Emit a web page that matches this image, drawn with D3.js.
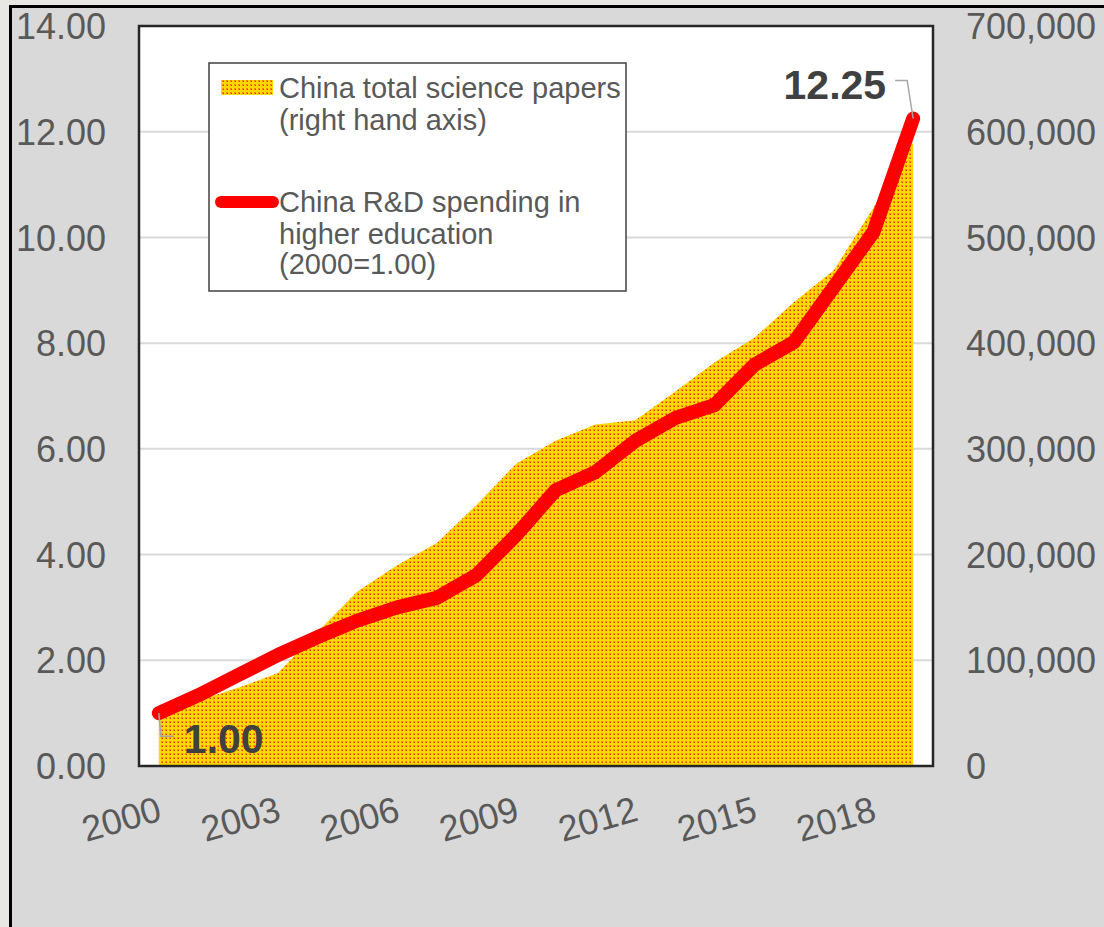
<!DOCTYPE html>
<html>
<head>
<meta charset="utf-8">
<script src="https://cdn.jsdelivr.net/npm/d3@7"></script>
<style>
  html, body { margin: 0; padding: 0; background: #e9e7e3; }
  svg { display: block; }
  text { font-family: "Liberation Sans", Arial, sans-serif; }
</style>
</head>
<body>
<div id="chart"></div>
<script>
// years on the category axis
var years = d3.range(2000, 2020);
// China R&D spending in higher education, index 2000 = 1.00 (left axis)
var rdIndex = [1.00, 1.34, 1.72, 2.10, 2.44, 2.75, 3.00, 3.18, 3.61, 4.37,
               5.22, 5.56, 6.15, 6.58, 6.83, 7.59, 8.02, 9.06, 10.10, 12.25];
// China total science papers (right axis)
var papers = [50000, 62000, 74000, 88000, 127000, 165000, 190000, 211000, 247000, 286000,
              308000, 323000, 327000, 354000, 382000, 405000, 439000, 469000, 528000, 590000];
var leftTicks = [0, 2, 4, 6, 8, 10, 12, 14];
var rightTicks = [0, 100000, 200000, 300000, 400000, 500000, 600000, 700000];
var xLabels = [2000, 2003, 2006, 2009, 2012, 2015, 2018];

var width = 1104, height = 927;
var plot = { left: 139, top: 26, right: 933, bottom: 766 };
var textGrey = '#595959';

var svg = d3.select('#chart').append('svg')
  .attr('width', width)
  .attr('height', height);

// pattern fill for the area (yellow with orange/red dots)
var defs = svg.append('defs');
var pat = defs.append('pattern')
  .attr('id', 'dots')
  .attr('patternUnits', 'userSpaceOnUse')
  .attr('width', 4).attr('height', 4);
pat.append('rect').attr('width', 4).attr('height', 4).attr('fill', '#ffd800');
pat.append('rect').attr('x', 1).attr('y', 1).attr('width', 2).attr('height', 2).attr('fill', '#ff8c00');
pat.append('rect').attr('x', 2).attr('y', 2).attr('width', 1).attr('height', 1).attr('fill', '#ff2a00');

// chart area background + frame
svg.append('rect')
  .attr('x', 10.5).attr('y', 6.5)
  .attr('width', width + 10).attr('height', height + 10)
  .attr('fill', '#d9d9d9')
  .attr('stroke', '#000').attr('stroke-width', 3);

// plot area
svg.append('rect')
  .attr('x', plot.left).attr('y', plot.top)
  .attr('width', plot.right - plot.left).attr('height', plot.bottom - plot.top)
  .attr('fill', '#fff');

/* Scales */
var x = d3.scalePoint()
  .domain(years)
  .range([plot.left, plot.right])
  .padding(0.5);

var yLeft = d3.scaleLinear()
  .domain([0, 14])
  .range([plot.bottom, plot.top]);

var yRight = d3.scaleLinear()
  .domain([0, 700000])
  .range([plot.bottom, plot.top]);

/* Gridlines */
svg.append('g')
  .selectAll('line')
  .data(leftTicks.slice(1, -1))
  .enter().append('line')
  .attr('x1', plot.left).attr('x2', plot.right)
  .attr('y1', d => yLeft(d)).attr('y2', d => yLeft(d))
  .attr('stroke', '#d9d9d9')
  .attr('stroke-width', 2);

/* Area */
var area = d3.area()
  .x((d, i) => x(years[i]))
  .y0(plot.bottom)
  .y1(d => yRight(d));

svg.append('path')
  .datum(papers)
  .attr('d', area)
  .attr('fill', 'url(#dots)');

/* Line */
var line = d3.line()
  .x((d, i) => x(years[i]))
  .y(d => yLeft(d));

svg.append('path')
  .datum(rdIndex)
  .attr('d', line)
  .attr('fill', 'none')
  .attr('stroke', '#ff0000')
  .attr('stroke-width', 14)
  .attr('stroke-linecap', 'round')
  .attr('stroke-linejoin', 'round');

// plot frame on top
svg.append('rect')
  .attr('x', plot.left).attr('y', plot.top)
  .attr('width', plot.right - plot.left).attr('height', plot.bottom - plot.top)
  .attr('fill', 'none')
  .attr('stroke', '#262626')
  .attr('stroke-width', 2.5);

/* Data labels */
var first = { x: x(years[0]), y: yLeft(rdIndex[0]) };
var last = { x: x(years[years.length - 1]), y: yLeft(rdIndex[rdIndex.length - 1]) };

svg.append('path')
  .attr('d', `M${first.x},${first.y} L${first.x + 2},${first.y + 23} L${first.x + 15},${first.y + 23}`)
  .attr('fill', 'none').attr('stroke', '#a6a6a6').attr('stroke-width', 1.5);
svg.append('text')
  .attr('x', first.x + 25).attr('y', first.y + 40)
  .attr('font-size', 41).attr('font-weight', 'bold')
  .attr('fill', '#404040')
  .text(rdIndex[0].toFixed(2));

svg.append('path')
  .attr('d', `M${last.x},${last.y} L${last.x - 6},${last.y - 38} L${last.x - 18},${last.y - 38}`)
  .attr('fill', 'none').attr('stroke', '#a6a6a6').attr('stroke-width', 1.5);
svg.append('text')
  .attr('x', last.x - 27).attr('y', last.y - 20)
  .attr('text-anchor', 'end')
  .attr('font-size', 41).attr('font-weight', 'bold')
  .attr('fill', '#404040')
  .text(rdIndex[rdIndex.length - 1].toFixed(2));

/* Axes */
var leftAxis = svg.append('g')
  .attr('transform', `translate(106,0)`)
  .call(d3.axisLeft(yLeft).tickValues(leftTicks).tickSize(0).tickPadding(0).tickFormat(d3.format('.2f')));
leftAxis.select('.domain').remove();
leftAxis.selectAll('text')
  .attr('font-size', 36).attr('fill', textGrey)
  .attr('font-family', '"Liberation Sans", Arial, sans-serif')
  .attr('dy', '0.35em');

var rightAxis = svg.append('g')
  .attr('transform', `translate(966,0)`)
  .call(d3.axisRight(yRight).tickValues(rightTicks).tickSize(0).tickPadding(0).tickFormat(d3.format(',')));
rightAxis.select('.domain').remove();
rightAxis.selectAll('text')
  .attr('font-size', 36).attr('fill', textGrey)
  .attr('font-family', '"Liberation Sans", Arial, sans-serif')
  .attr('dy', '0.35em');

var bottomAxis = svg.append('g')
  .attr('transform', `translate(0,${plot.bottom})`)
  .call(d3.axisBottom(x).tickValues(xLabels).tickSize(0).tickPadding(0).tickFormat(d3.format('d')));
bottomAxis.select('.domain').remove();
bottomAxis.selectAll('text')
  .attr('font-size', 36).attr('fill', textGrey)
  .attr('font-family', '"Liberation Sans", Arial, sans-serif')
  .attr('text-anchor', 'end')
  .attr('y', 0).attr('dy', 0)
  .attr('transform', 'translate(4,54) rotate(-16)');

/* Legend */
var legend = svg.append('g').attr('transform', 'translate(209,63)');
legend.append('rect')
  .attr('width', 417).attr('height', 228)
  .attr('fill', '#fff')
  .attr('stroke', '#404040').attr('stroke-width', 1.5);
legend.append('rect')
  .attr('x', 12).attr('y', 17).attr('width', 52).attr('height', 15)
  .attr('fill', 'url(#dots)');
legend.append('line')
  .attr('x1', 12).attr('x2', 64).attr('y1', 139).attr('y2', 139)
  .attr('stroke', '#ff0000').attr('stroke-width', 12).attr('stroke-linecap', 'round');

var legendLines = [
  ['China total science papers', 35],
  ['(right hand axis)', 67],
  ['China R&D spending in', 149],
  ['higher education', 181],
  ['(2000=1.00)', 211]
];
legend.selectAll('text.lg')
  .data(legendLines).enter()
  .append('text')
  .attr('class', 'lg')
  .attr('x', 70).attr('y', d => d[1])
  .attr('font-size', 29).attr('fill', textGrey)
  .text(d => d[0]);
</script>
</body>
</html>
